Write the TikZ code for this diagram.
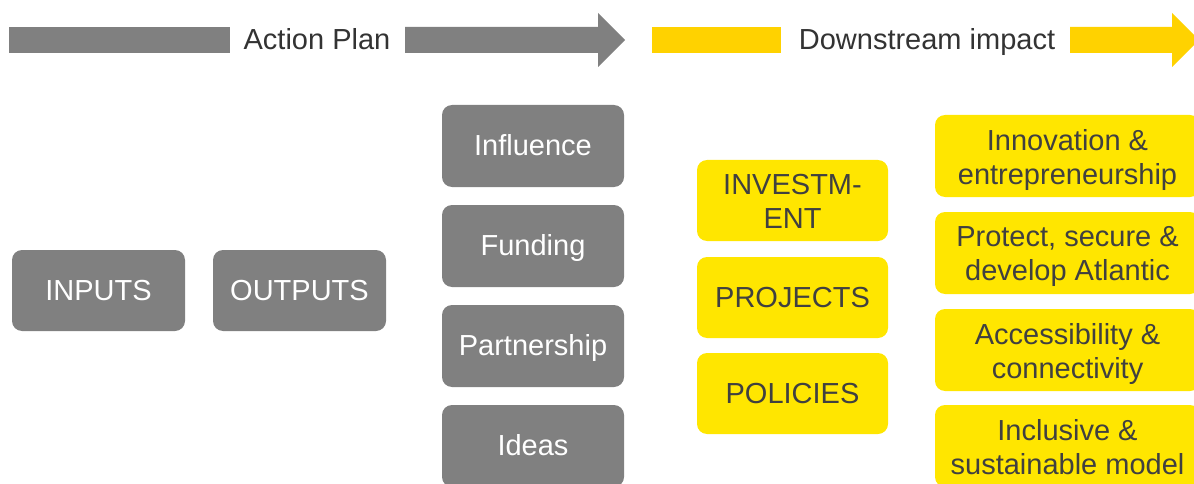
\documentclass[tikz,border=0pt]{standalone}
\usepackage{fontspec}
\setmainfont{Liberation Sans}
\usepackage{tikz}

\definecolor{boxgray}{HTML}{808080}
\definecolor{arrowyellow}{HTML}{FFD200}
\definecolor{boxyellow}{HTML}{FFE600}
\definecolor{textdark}{HTML}{404040}

\tikzset{
	struttext/.style = {inner sep = 0pt, yshift = -3pt,
		font = \fontsize{29}{34}\selectfont,
		execute at begin node = \strut, execute at end node = \strut},
	box/.style = {rounded corners = 10pt, inner sep = 0pt},
	boxtext/.style = {struttext, align = center},
	graybox/.style = {box, fill = boxgray, label = {[boxtext, text = white]center:#1}},
	yellowbox/.style = {box, fill = boxyellow, label = {[boxtext, text = textdark]center:#1}},
	% two text lines sit a little lower
	yellowpair/.style = {box, fill = boxyellow,
		label = {[boxtext, text = textdark, yshift = -3pt]center:#1}},
	headline/.style = {struttext, text = textdark!80!black}
}

\begin{document}
\begin{tikzpicture}[x = 1pt, y = -1pt]
				\useasboundingbox (0, 0) rectangle (1194, 484);
				\clip (0, 0) rectangle (1194, 484);
				% action plan
				\fill[boxgray] (9, 27) rectangle (230, 53);
				\fill[boxgray] (405, 27) -- (598, 27) -- (598, 13) -- (625, 40)
					-- (598, 67) -- (598, 53) -- (405, 53) -- cycle;
				\node[headline] (plan) at (317, 40) {Action Plan};
				% downstream impact
				\fill[arrowyellow] (652, 27) rectangle (781, 53);
				\fill[arrowyellow] (1070, 27) -- (1172, 27) -- (1172, 13) -- (1199, 40)
					-- (1172, 67) -- (1172, 53) -- (1070, 53) -- cycle;
				\node[headline] (impact) at (927, 40) {Downstream impact};
				% inputs and outputs
				\node[graybox = INPUTS, minimum width = 173, minimum height = 81] (inputs) at (98.5, 290.5) {};
				\node[graybox = OUTPUTS, minimum width = 173, minimum height = 81] (outputs) at (299.5, 290.5) {};
				% levers
				\foreach \y/\name/\txt in {146/influence/Influence, 246/funding/Funding,
					346/partnership/Partnership, 446/ideas/Ideas} {
					\node[graybox = \txt, minimum width = 182, minimum height = 82] (\name) at (533, \y) {};
				}
				% results
				\node[yellowpair = {INVESTM-\\ENT}, minimum width = 191, minimum height = 81] (investment) at (792.5, 200.5) {};
				\foreach \y/\name/\txt in {297.5/projects/PROJECTS, 393.5/policies/POLICIES} {
					\node[yellowbox = \txt, minimum width = 191, minimum height = 81] (\name) at (792.5, \y) {};
				}
				% impact areas
				\foreach \y/\name/\txt in {156/innovation/{Innovation \&\\entrepreneurship},
					253/protect/{Protect, secure \&\\develop Atlantic},
					350/access/{Accessibility \&\\connectivity},
					446/inclusive/{Inclusive \&\\sustainable model}} {
					\node[yellowpair = \txt, minimum width = 265, minimum height = 82] (\name) at (1067.5, \y) {};
				}
			\end{tikzpicture}
\end{document}
